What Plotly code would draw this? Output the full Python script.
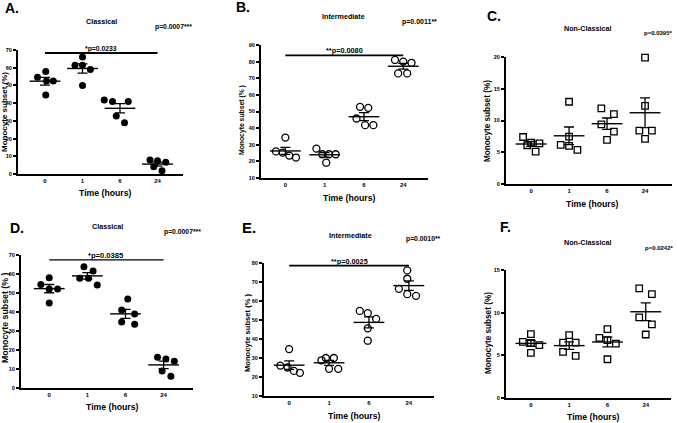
import numpy as np
import plotly.graph_objects as go

W, H = 677, 423
FONT = "Liberation Sans, Arial, sans-serif"

TIME_LABELS = ["0", "1", "6", "24"]

# ---- data (% monocyte subset), one list per time point ----
A_CLASSICAL = [[57.8, 54.6, 52.5, 52.5, 44.6], [66.0, 61.4, 61.4, 59.0, 50.0],
               [41.8, 40.9, 40.9, 32.8, 29.0], [7.9, 7.5, 6.6, 4.1, 1.9]]
B_INTERMEDIATE = [[34.3, 26.0, 25.3, 23.5, 22.3], [27.7, 24.3, 24.3, 24.3, 19.2],
                  [52.8, 52.2, 45.8, 41.8, 41.8], [81.0, 80.0, 79.3, 72.9, 72.9]]
C_NONCLASSICAL = [[7.4, 6.1, 6.5, 6.4, 5.1], [12.95, 7.47, 6.16, 6.0, 5.38],
                  [11.9, 11.0, 9.4, 8.24, 6.94], [19.9, 12.3, 8.4, 8.4, 7.1]]
D_CLASSICAL = [[58.0, 54.5, 52.1, 52.1, 44.8], [63.8, 61.6, 57.7, 57.7, 54.2],
               [46.8, 41.0, 38.9, 34.8, 33.6], [16.2, 15.3, 14.1, 9.0, 6.2]]
E_INTERMEDIATE = [[34.7, 26.0, 25.0, 23.2, 22.2], [28.8, 30.0, 30.0, 24.3, 24.3],
                  [54.8, 53.6, 50.6, 45.6, 39.1], [76.1, 71.7, 66.4, 63.6, 62.7]]
F_NONCLASSICAL = [[7.48, 6.58, 6.46, 6.19, 5.29], [7.36, 6.5, 6.5, 5.4, 4.94],
                  [8.07, 7.05, 6.78, 6.38, 4.54], [12.85, 12.18, 9.44, 8.62, 7.44]]

PANEL_LETTERS = ["A.", "B.", "C.", "D.", "E.", "F."]
SUBSET_TITLES = ["Classical", "Intermediate", "Non-Classical",
                 "Classical", "Intermediate", "Non-Classical"]
ANOVA_P = ["p=0.0007***", "p=0.0011**", "p=0.0395*",
           "p=0.0007***", "p=0.0010**", "p=0.0242*"]
PAIR_P = ["*p=0.0233", "**p=0.0080", None, "*p=0.0385", "**p=0.0025", None]
PAIR_LEVEL = [68.3, 83.8, None, 67.4, 78.6, None]
Y_TICKS = [list(range(0, 71, 10)), list(range(10, 91, 10)), [0, 5, 10, 15, 20],
           list(range(0, 71, 10)), list(range(10, 81, 10)), [0, 5, 10, 15]]
Y_TITLES = ["Monocyte subset (%)", "Monocyte subset (% )", "Monocyte subset (%)",
            "Monocyte subset (% )", "Monocyte subset (% )", "Monocyte subset (%)"]

# ---- styling / layout (not data) ----
JITTER = [
    [[0.02, -0.2, 0.04, 0.22, 0.02], [0.0, -0.2, 0.0, 0.21, 0.0],
     [-0.42, -0.2, 0.22, -0.1, 0.12], [-0.2, 0.0, 0.22, -0.1, 0.12]],
    [[0.0, -0.24, -0.07, 0.1, 0.27], [-0.21, -0.06, 0.11, 0.28, 0.04],
     [-0.1, 0.11, -0.19, 0.03, 0.24], [-0.21, 0.0, 0.21, -0.13, 0.1]],
    [[-0.21, -0.1, 0.0, 0.22, 0.12], [0.0, 0.0, -0.22, 0.0, 0.22],
     [-0.15, 0.18, -0.15, 0.18, 0.0], [0.0, 0.0, -0.15, 0.18, 0.0]],
    [[0.0, -0.22, 0.0, 0.22, 0.0], [-0.09, 0.15, -0.2, 0.03, 0.26],
     [0.06, -0.1, 0.24, -0.1, 0.24], [-0.16, 0.06, 0.28, -0.04, 0.19]],
    [[0.0, -0.22, -0.04, 0.12, 0.27], [-0.19, -0.08, 0.12, 0.0, 0.23],
     [-0.23, -0.03, 0.18, -0.03, -0.03], [-0.04, -0.04, -0.25, -0.04, 0.18]],
    [[0.0, -0.21, 0.0, 0.22, 0.0], [0.0, -0.16, 0.17, -0.16, 0.17],
     [0.0, -0.21, 0.0, 0.22, 0.0], [-0.17, 0.16, -0.17, 0.16, 0.0]],
]
SYMBOLS = ["circle", "circle-open", "square-open", "circle", "circle-open", "square-open"]
MSIZE = [7, 7, 6.5, 7, 7, 6.5]
# axes boxes in pixels: x0, x1, ytop, ybottom
BOX = [(18, 183, 50, 174), (261, 428, 45, 178), (506, 672, 57, 184),
       (21, 193, 255, 388), (264, 434, 263, 396), (506, 671, 270, 398)]
XRANGE = [(-0.72, 3.68), (-0.62, 3.63), (-0.66, 3.71),
          (-0.74, 3.77), (-0.63, 3.63), (-0.65, 3.66)]
YRANGE = [(0, 70), (10, 90), (0, 20), (0, 70), (10, 80), (0, 15)]
LETTER_POS = [(3, 8, 14), (234, 7, 14), (485, 16, 14), (8, 228, 14), (240, 227, 15), (498, 227, 14)]
TITLE_POS = [(101, 22), (343, 16), (588, 29), (107, 226), (350, 235), (588, 242)]
ANOVA_POS = [(173, 27, 6.8), (419, 22, 7.0), (658, 33, 6.0),
             (183, 232, 6.8), (423, 239, 6.8), (659, 248, 6.0)]
PAIR_FONT = [6.8, 7.3, None, 7.6, 7.3]
YTITLE_POS = [(5, 112, 8.0), (242, 120, 6.8), (487, 121, 8.2),
              (5, 318, 8.8), (247, 333, 7.6), (488, 333, 8.2)]
XTITLE_POS = [(105, 193), (349, 198), (592, 204), (112, 407), (354, 416), (593, 417)]

DATA = [A_CLASSICAL, B_INTERMEDIATE, C_NONCLASSICAL, D_CLASSICAL, E_INTERMEDIATE, F_NONCLASSICAL]


def px(x, y):
    return x / W, 1 - y / H


fig = go.Figure()
annotations = []
shapes = []
layout_axes = {}
BLACK = "#000000"

for i, data in enumerate(DATA):
    n = i + 1
    xa = "x" if n == 1 else f"x{n}"
    ya = "y" if n == 1 else f"y{n}"
    xs, ys = [], []
    for c, vals in enumerate(data):
        for j, v in enumerate(vals):
            xs.append(c + JITTER[i][c][j])
            ys.append(v)
    sym = SYMBOLS[i]
    filled = not sym.endswith("open")
    fig.add_trace(go.Scatter(
        x=xs, y=ys, mode="markers", xaxis=xa, yaxis=ya, showlegend=False,
        marker=dict(symbol=sym, size=MSIZE[i], color=BLACK,
                    line=dict(color=BLACK, width=1.3 if not filled else 0)),
        cliponaxis=False))
    means = [float(np.mean(v)) for v in data]
    sems = [float(np.std(v, ddof=1) / np.sqrt(len(v))) for v in data]
    fig.add_trace(go.Scatter(
        x=list(range(len(TIME_LABELS))), y=means, mode="markers", xaxis=xa, yaxis=ya,
        showlegend=False,
        marker=dict(symbol="line-ew", size=22, color=BLACK,
                    line=dict(color=BLACK, width=1.4)),
        error_y=dict(type="data", array=sems, visible=True, width=5,
                     thickness=1.3, color=BLACK),
        cliponaxis=False))

    x0, x1, yt, yb = BOX[i]
    dx0, _ = px(x0, 0)
    dx1, _ = px(x1, 0)
    _, dyb = px(0, yb)
    _, dyt = px(0, yt)
    key_x = "xaxis" if n == 1 else f"xaxis{n}"
    key_y = "yaxis" if n == 1 else f"yaxis{n}"
    layout_axes[key_x] = dict(
        domain=[dx0, dx1], anchor=ya, range=list(XRANGE[i]),
        tickvals=list(range(len(TIME_LABELS))), ticktext=TIME_LABELS,
        ticks="", showline=True, linecolor=BLACK, linewidth=2,
        showgrid=False, zeroline=False, automargin=False,
        tickfont=dict(family=FONT, size=6, color=BLACK, weight="bold"))
    layout_axes[key_y] = dict(
        domain=[dyb, dyt], anchor=xa, range=list(YRANGE[i]),
        tickvals=Y_TICKS[i], ticks="outside", ticklen=3, tickwidth=1.5,
        tickcolor=BLACK, showline=True, linecolor=BLACK, linewidth=2,
        showgrid=False, zeroline=False, automargin=False,
        tickfont=dict(family=FONT, size=5.5, color=BLACK, weight="bold"))

    lx, ly, ls = LETTER_POS[i]
    ax_, ay_ = px(lx, ly)
    annotations.append(dict(text=PANEL_LETTERS[i], x=ax_, y=ay_, xref="paper", yref="paper",
                            xanchor="left", yanchor="middle", showarrow=False,
                            font=dict(family=FONT, size=ls, color=BLACK, weight="bold")))
    tx, ty = px(*TITLE_POS[i])
    annotations.append(dict(text=SUBSET_TITLES[i], x=tx, y=ty, xref="paper", yref="paper",
                            xanchor="center", yanchor="middle", showarrow=False,
                            font=dict(family=FONT, size=7.2, color=BLACK, weight="bold")))
    pxx, pyy, ps = ANOVA_POS[i]
    qx, qy = px(pxx, pyy)
    annotations.append(dict(text=ANOVA_P[i], x=qx, y=qy, xref="paper", yref="paper",
                            xanchor="center", yanchor="middle", showarrow=False,
                            font=dict(family=FONT, size=ps, color=BLACK, weight="bold")))
    yx, yy, ysz = YTITLE_POS[i]
    rx, ry = px(yx, yy)
    annotations.append(dict(text=Y_TITLES[i], x=rx, y=ry, xref="paper", yref="paper",
                            xanchor="center", yanchor="middle", showarrow=False, textangle=-90,
                            font=dict(family=FONT, size=ysz, color=BLACK, weight="bold")))
    sx, sy = px(*XTITLE_POS[i])
    annotations.append(dict(text="Time (hours)", x=sx, y=sy, xref="paper", yref="paper",
                            xanchor="center", yanchor="middle", showarrow=False,
                            font=dict(family=FONT, size=8.7, color=BLACK, weight="bold")))
    if PAIR_P[i] is not None:
        lvl = PAIR_LEVEL[i]
        shapes.append(dict(type="line", xref=xa, yref=ya, x0=0, x1=3, y0=lvl, y1=lvl,
                           line=dict(color=BLACK, width=1.8 if i != 3 else 1.2)))
        annotations.append(dict(text=PAIR_P[i], x=1.5, y=lvl, xref=xa, yref=ya,
                                xanchor="center", yanchor="bottom", showarrow=False,
                                yshift=-2,
                                font=dict(family=FONT, size=PAIR_FONT[i], color=BLACK,
                                          weight="bold")))

fig.update_layout(
    width=W, height=H, margin=dict(l=0, r=0, t=0, b=0),
    paper_bgcolor="white", plot_bgcolor="white", template="none",
    showlegend=False, annotations=annotations, shapes=shapes,
    font=dict(family=FONT, color=BLACK),
    **layout_axes)

fig.write_html("out.html")
